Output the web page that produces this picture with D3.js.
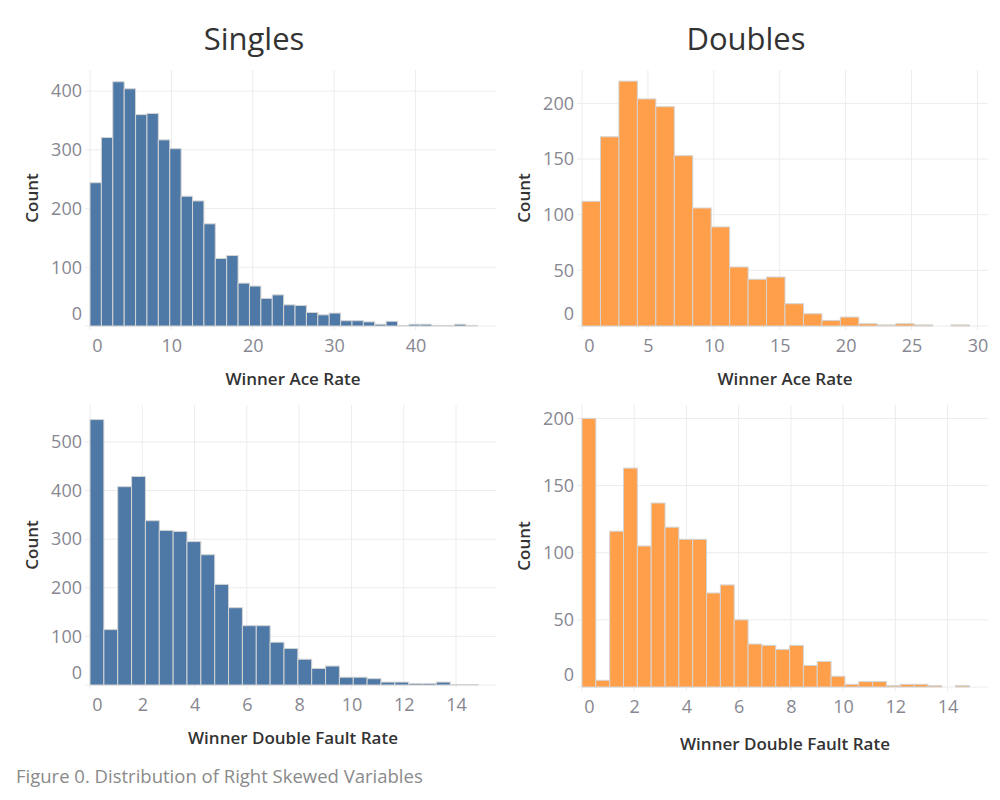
<!DOCTYPE html>
<html>
<head>
<meta charset="utf-8">
<script src="https://cdn.jsdelivr.net/npm/d3@7"></script>
<style>
  body { margin: 0; background: #fff; }
  svg text { font-family: "Open Sans", "Noto Sans", sans-serif; }
</style>
</head>
<body>
<svg id="chart" width="1000" height="800"></svg>
<script>
'use strict';

// bin counts
var singlesAceCounts = [244, 321, 416, 404, 360, 362, 317, 302, 221, 213, 174, 115, 120, 73, 68, 47, 53, 36, 35, 23, 19, 22, 9, 9, 7, 3, 8, 1, 3, 3, 1, 1, 3, 1];
var doublesAceCounts = [112, 170, 220, 204, 197, 153, 106, 89, 53, 42, 44, 20, 11, 5, 8, 2, 1, 2, 1, 0, 1];
var singlesDfCounts  = [546, 114, 408, 429, 338, 318, 316, 295, 268, 207, 159, 122, 122, 88, 75, 53, 34, 39, 16, 16, 13, 6, 6, 3, 3, 6, 1, 1];
var doublesDfCounts  = [200, 5, 116, 163, 105, 137, 119, 110, 110, 70, 76, 50, 32, 31, 28, 31, 16, 19, 8, 2, 4, 4, 1, 2, 2, 1, 0, 1];

var aceBinSize = 1.4;
var dfBinSize  = 0.53;

var columnTitles   = ["Singles", "Doubles"];
var aceTicksSingles = [0, 10, 20, 30, 40];
var aceTicksDoubles = [0, 5, 10, 15, 20, 25, 30];
var dfTicks         = [0, 2, 4, 6, 8, 10, 12, 14];
var countTicksSinglesAce = [0, 100, 200, 300, 400];
var countTicksDoublesAce = [0, 50, 100, 150, 200];
var countTicksSinglesDf  = [0, 100, 200, 300, 400, 500];
var countTicksDoublesDf  = [0, 50, 100, 150, 200];

var caption = "Figure 0. Distribution of Right Skewed Variables";

var BLUE   = "#4e79a7";
var ORANGE = "#ff9f4a";

var svg = d3.select("#chart");

/*=====  Panels  ======*/
var panels = [
    { counts: singlesAceCounts, bin: aceBinSize, color: BLUE,
      left: 90,  right: 496, top: 70,  bottom: 326, xMax: 49.9,  yMax: 436,
      xTicks: aceTicksSingles, yTicks: countTicksSinglesAce,
      xTitle: "Winner Ace Rate", xTitleY: 379 },
    { counts: doublesAceCounts, bin: aceBinSize, color: ORANGE,
      left: 582, right: 988, top: 70,  bottom: 326, xMax: 30.8,  yMax: 230,
      xTicks: aceTicksDoubles, yTicks: countTicksDoublesAce,
      xTitle: "Winner Ace Rate", xTitleY: 379 },
    { counts: singlesDfCounts, bin: dfBinSize, color: BLUE,
      left: 90,  right: 496, top: 405, bottom: 685, xMax: 15.53, yMax: 576,
      xTicks: dfTicks, yTicks: countTicksSinglesDf,
      xTitle: "Winner Double Fault Rate", xTitleY: 738 },
    { counts: doublesDfCounts, bin: dfBinSize, color: ORANGE,
      left: 582, right: 988, top: 405, bottom: 687, xMax: 15.55, yMax: 210,
      xTicks: dfTicks, yTicks: countTicksDoublesDf,
      xTitle: "Winner Double Fault Rate", xTitleY: 744 }
];

panels.forEach(function (p) {
    var x = d3.scaleLinear().domain([0, p.xMax]).range([p.left, p.right]);
    var y = d3.scaleLinear().domain([0, p.yMax]).range([p.bottom, p.top]);
    var g = svg.append("g");

    // grid
    g.append("g").selectAll("line").data(p.yTicks).join("line")
        .attr("x1", p.left - 5).attr("x2", p.right)
        .attr("y1", function (d) { return y(d); })
        .attr("y2", function (d) { return y(d); })
        .attr("stroke", "#ececec").attr("stroke-width", 1);
    g.append("g").selectAll("line").data(p.xTicks).join("line")
        .attr("x1", function (d) { return x(d); })
        .attr("x2", function (d) { return x(d); })
        .attr("y1", p.top).attr("y2", p.bottom + 4)
        .attr("stroke", "#ececec").attr("stroke-width", 1);

    // bars
    g.append("g").selectAll("rect").data(p.counts).join("rect")
        .attr("x", function (d, i) { return x(i * p.bin); })
        .attr("width", function (d, i) { return x((i + 1) * p.bin) - x(i * p.bin); })
        .attr("y", function (d) { return y(d); })
        .attr("height", function (d) { return y(0) - y(d); })
        .attr("fill", p.color)
        .attr("stroke", function (d) { return d > 0 ? "#d4d4d4" : "none"; })
        .attr("stroke-width", 1);

    // axes
    var yAxis = g.append("g")
        .attr("transform", "translate(" + p.left + ",0)")
        .call(d3.axisLeft(y).tickValues(p.yTicks).tickSize(0).tickPadding(8));
    var xAxis = g.append("g")
        .attr("transform", "translate(0," + p.bottom + ")")
        .call(d3.axisBottom(x).tickValues(p.xTicks).tickSize(0).tickPadding(13));

    [yAxis, xAxis].forEach(function (a) {
        a.select(".domain").remove();
        a.selectAll("text")
            .attr("font-size", "18px")
            .attr("fill", "#878791")
            .style("font-family", "'Open Sans', sans-serif");
    });
    // edge labels nudged inward, like the original tool does
    yAxis.selectAll(".tick").filter(function (d) { return d === 0; })
        .select("text").attr("y", -12);
    xAxis.selectAll(".tick").filter(function (d) { return d === 0; })
        .select("text").attr("x", 7);

    // titles
    g.append("text")
        .attr("x", (p.left + p.right) / 2)
        .attr("y", p.xTitleY)
        .attr("dy", "0.35em")
        .attr("text-anchor", "middle")
        .attr("font-size", "17px")
        .attr("font-weight", 600)
        .attr("fill", "#333")
        .text(p.xTitle);

    g.append("text")
        .attr("transform", "translate(" + (p.left - 58) + "," + ((p.top + p.bottom) / 2) + ") rotate(-90)")
        .attr("dy", "0.35em")
        .attr("text-anchor", "middle")
        .attr("font-size", "17px")
        .attr("font-weight", 600)
        .attr("fill", "#333")
        .text("Count");
});

svg.selectAll("text.col-title").data(columnTitles).join("text")
    .attr("class", "col-title")
    .attr("x", function (d, i) { return i === 0 ? 254 : 746; })
    .attr("y", 50)
    .attr("text-anchor", "middle")
    .attr("font-size", "31px")
    .attr("fill", "#333")
    .text(function (d) { return d; });

svg.append("text")
    .attr("x", 16)
    .attr("y", 777)
    .attr("dy", "0.35em")
    .attr("font-size", "18.5px")
    .attr("fill", "#8a8a8a")
    .text(caption);
</script>
</body>
</html>
